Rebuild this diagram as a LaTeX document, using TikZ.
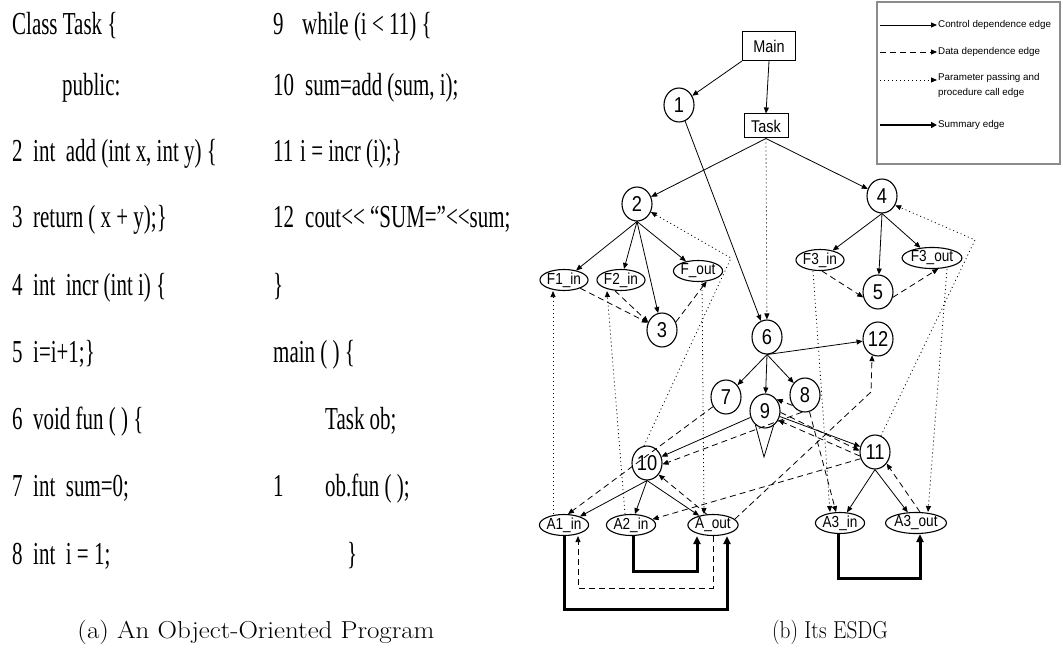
\documentclass[tikz,border=0pt]{standalone}
\usepackage{graphicx}
\usepackage{fontspec}
\newfontfamily\codefont[FakeStretch=0.655]{Liberation Serif}
\newfontfamily\gfont[FakeStretch=0.85]{Liberation Sans}
\newfontfamily\lfont{Liberation Sans}
\usetikzlibrary{arrows.meta,shapes.geometric,calc}
\tikzset{
  stmt/.style={ellipse,draw,line width=1.1pt,minimum width=30pt,minimum height=34pt,inner sep=0pt,
    font=\gfont\fontsize{21.5}{21.5}\selectfont},
  parm/.style={ellipse,draw,line width=1.1pt,minimum width=47pt,minimum height=21pt,inner sep=0pt,
    font=\gfont\fontsize{16}{16}\selectfont},
  entry/.style={rectangle,draw,line width=1pt,inner sep=0pt,font=\gfont\fontsize{17}{17}\selectfont},
  ctrl/.style={line width=0.8pt,-{Triangle[length=6pt,width=5pt]}},
  data/.style={ctrl,dash pattern=on 6pt off 4pt},
  param/.style={ctrl,dash pattern=on 1pt off 3pt},
  summ/.style={line width=3pt,-{Triangle[length=8pt,width=7pt]}},
  code/.style={anchor=base west,inner sep=0pt,font=\codefont\fontsize{32}{32}\selectfont},
  legtext/.style={anchor=west,inner sep=0pt,font=\lfont\fontsize{9.8}{15}\selectfont,align=left},
  captext/.style={inner sep=0pt,font=\rmfamily\fontsize{24.5}{24.5}\selectfont},
}
\begin{document}
\begin{tikzpicture}[x=1pt,y=-1pt]
\useasboundingbox (0,0) rectangle (1063,655);

% ---------------- program listing ----------------
\node[code] (l0)  at (12,35)  {Class Task \{};
\node[code] (l1)  at (62,96)  {public:};
\node[code] (n2a) at (12,162) {2};  \node[code] (l2) at (33,162) {int\, add (int x, int y) \{};
\node[code] (n3a) at (12,228) {3};  \node[code] (l3) at (33,228) {return ( x + y);\}};
\node[code] (n4a) at (12,295) {4};  \node[code] (l4) at (33,295) {int\, incr (int i) \{};
\node[code] (n5a) at (12,362) {5};  \node[code] (l5) at (33,362) {i=i+1;\}};
\node[code] (n6a) at (12,429) {6};  \node[code] (l6) at (33,429) {void fun ( ) \{};
\node[code] (n7a) at (12,496) {7};  \node[code] (l7) at (33,496) {int\, sum=0;};
\node[code] (n8a) at (12,564) {8};  \node[code] (l8) at (33,564) {int\, i = 1;};

\node[code] (n9a)  at (273,35)  {9};  \node[code] (r0) at (302,35)  {while (i < 11) \{};
\node[code] (n10a) at (273,96)  {10}; \node[code] (r1) at (305,96)  {sum=add (sum, i);};
\node[code] (n11a) at (273,162) {11}; \node[code] (r2) at (300,162) {i = incr (i);\}};
\node[code] (n12a) at (273,228) {12}; \node[code] (r3) at (305,228) {cout<< “SUM=”<<sum;};
\node[code] (r4) at (273,295) {\}};
\node[code] (r5) at (273,362) {main ( ) \{};
\node[code] (r6) at (325,429) {Task ob;};
\node[code] (n1a) at (273,496) {1};  \node[code] (r7) at (325,496) {ob.fun ( );};
\node[code] (r8) at (347,564) {\}};

% ---------------- captions ----------------
\node[captext] (capa) at (256,632) {\scalebox{1.1}[1]{(a) An Object-Oriented Program}};
\node[captext] (capb) at (830,632) {\scalebox{0.87}[1]{(b) Its ESDG}};

% ---------------- legend ----------------
\draw[draw=black!45,line width=2pt] (877,2) rectangle (1060,164);
\coordinate (k1a) at (880,25);  \coordinate (k1b) at (937,25);
\coordinate (k2a) at (880,52);  \coordinate (k2b) at (937,52);
\coordinate (k3a) at (880,80);  \coordinate (k3b) at (937,80);
\coordinate (k4a) at (880,125); \coordinate (k4b) at (937,125);
\draw[ctrl] (k1a) -- (k1b);
\draw[data] (k2a) -- (k2b);
\draw[param] (k3a) -- (k3b);
\draw[line width=2.5pt,-{Triangle[length=6pt,width=6pt]}] (k4a) -- (k4b);
\node[legtext] (t1) at (938,25) {Control dependence edge};
\node[legtext] (t2) at (938,52) {Data dependence edge};
\node[legtext,anchor=north west] (t3) at (938,73) {Parameter passing and\\procedure call edge};
\node[legtext] (t4) at (938,125) {Summary edge};

% ---------------- ESDG vertices ----------------
\node[entry,minimum width=53pt,minimum height=29pt] (main) at (769,46) {Main};
\node[entry,minimum width=44pt,minimum height=24pt] (task) at (766,126) {Task};
\node[stmt] (v1)  at (679,105) {1};
\node[stmt] (v2)  at (637,204) {2};
\node[stmt] (v3)  at (662,330) {3};
\node[stmt] (v4)  at (882,196) {4};
\node[stmt] (v5)  at (878,292) {5};
\node[stmt] (v6)  at (767,337) {6};
\node[stmt] (v7)  at (726,397) {7};
\node[stmt] (v8)  at (805,395) {8};
\node[stmt] (v9)  at (765,411) {9};
\node[stmt] (v10) at (647,463) {10};
\node[stmt] (v11) at (875,452) {11};
\node[stmt] (v12) at (878,339) {12};
\node[parm] (f1in)  at (564,280) {F1\_in};
\node[parm] (f2in)  at (621,280) {F2\_in};
\node[parm] (fout)  at (698,271) {F\_out};
\node[parm] (f3in)  at (820,260) {F3\_in};
\node[parm] (f3out) at (932,258) {F3\_out};
\node[parm] (a1in)  at (564,525) {A1\_in};
\node[parm] (a2in)  at (631,525) {A2\_in};
\node[parm] (aout)  at (713,525) {A\_out};
\node[parm] (a3in)  at (840,523) {A3\_in};
\node[parm] (a3out) at (916,523) {A3\_out};

% ---------------- control dependence ----------------
\draw[ctrl] (main.south west) -- (v1);
\draw[ctrl] (main.south) -- (task.north);
\draw[ctrl] (task.south) -- (v2);
\draw[ctrl] (task.south) -- (v4);
\draw[ctrl] (v1) -- (v6);
\draw[ctrl] (v2.south) -- (f1in);
\draw[ctrl] (v2.south) -- (f2in);
\draw[ctrl] (v2.south) -- (v3);
\draw[ctrl] (v2.south) -- (fout);
\draw[ctrl] (v4.south) -- (f3in);
\draw[ctrl] (v4.south) -- (v5);
\draw[ctrl] (v4.south) -- (f3out);
\draw[ctrl] (v6.south) -- (v7);
\draw[ctrl] (v6.south) -- (v8);
\draw[ctrl] (v6.south) -- (v12);
\draw[ctrl] (v6.south) -- (v9);
\draw[ctrl] (v9) -- (v10);
\draw[ctrl] (v9) -- (v11);
\draw[ctrl] (v10.south) -- (a1in);
\draw[ctrl] (v10.south) -- (a2in);
\draw[ctrl] (v10.south) -- (aout);
\draw[ctrl] (v11.south) -- (a3in);
\draw[ctrl] (v11.south) -- (a3out);
\coordinate (loop9) at (764,457);
\draw[line width=0.8pt] (v9.235) -- (loop9) -- (v9.300);

% ---------------- data dependence ----------------
\draw[data] (f1in) -- (v3);
\draw[data] (f2in.-120) -- (v3.150);
\draw[data] (v3.30) -- (fout.-50);
\draw[data] (f3in.-80) -- (v5.200);
\draw[data] (v5.-20) -- (f3out.-60);
\draw[data] (v7) -- (a1in.70);
\draw[data] (aout.120) -- (v10.-45);
\draw[data] (v8.-100) -- (v10.-5);
\draw[data] (v9.-5) -- (v11.175);
\draw[data] (v11.195) -- (v9.-35);
\draw[data] (v11.205) -- (a2in.15);
\draw[data] (v8.220) -- (v9.45);
\draw[data] (v8.-75) -- (a3in.110);
\draw[data] (a3out.70) -- (v11.-45);
\coordinate (bend12) at (871,392);
\draw[data] (aout.15) -- (bend12) -- (v12.-110);
\draw[data] (aout.south) -- ++(0,52) -| ([xshift=14pt]a1in.south);

% ---------------- parameter passing / call ----------------
\draw[param] (task.south) -- (v6);
\draw[param] ([xshift=-11pt]a1in.north) -- ([xshift=-11pt]f1in.south);
\draw[param] ([xshift=-6pt]a2in.north) -- ([xshift=-14pt]f2in.south);
\draw[param] ([xshift=4pt]fout.south) -- ([xshift=-9pt]aout.north);
\coordinate (bend2) at (731,258);
\draw[param] (v10.100) -- (bend2) -- (v2.-30);
\coordinate (bend4) at (975,240);
\draw[param] (v11.70) -- (bend4) -- (v4.-35);
\draw[param] ([xshift=-7pt]f3in.south) -- ([xshift=-10pt]a3in.north);
\draw[param] ([xshift=15pt]f3out.south) -- ([xshift=12pt]a3out.north);

% ---------------- summary ----------------
\draw[summ] (a1in.south) -- ++(0,73) -| ([xshift=14pt]aout.south);
\draw[summ] ([xshift=2pt]a2in.south) -- ++(0,35) -| ([xshift=-16pt]aout.south);
\draw[summ] ([xshift=-2pt]a3in.south) -- ++(0,44) -| ([xshift=4pt]a3out.south);
\end{tikzpicture}
\end{document}
